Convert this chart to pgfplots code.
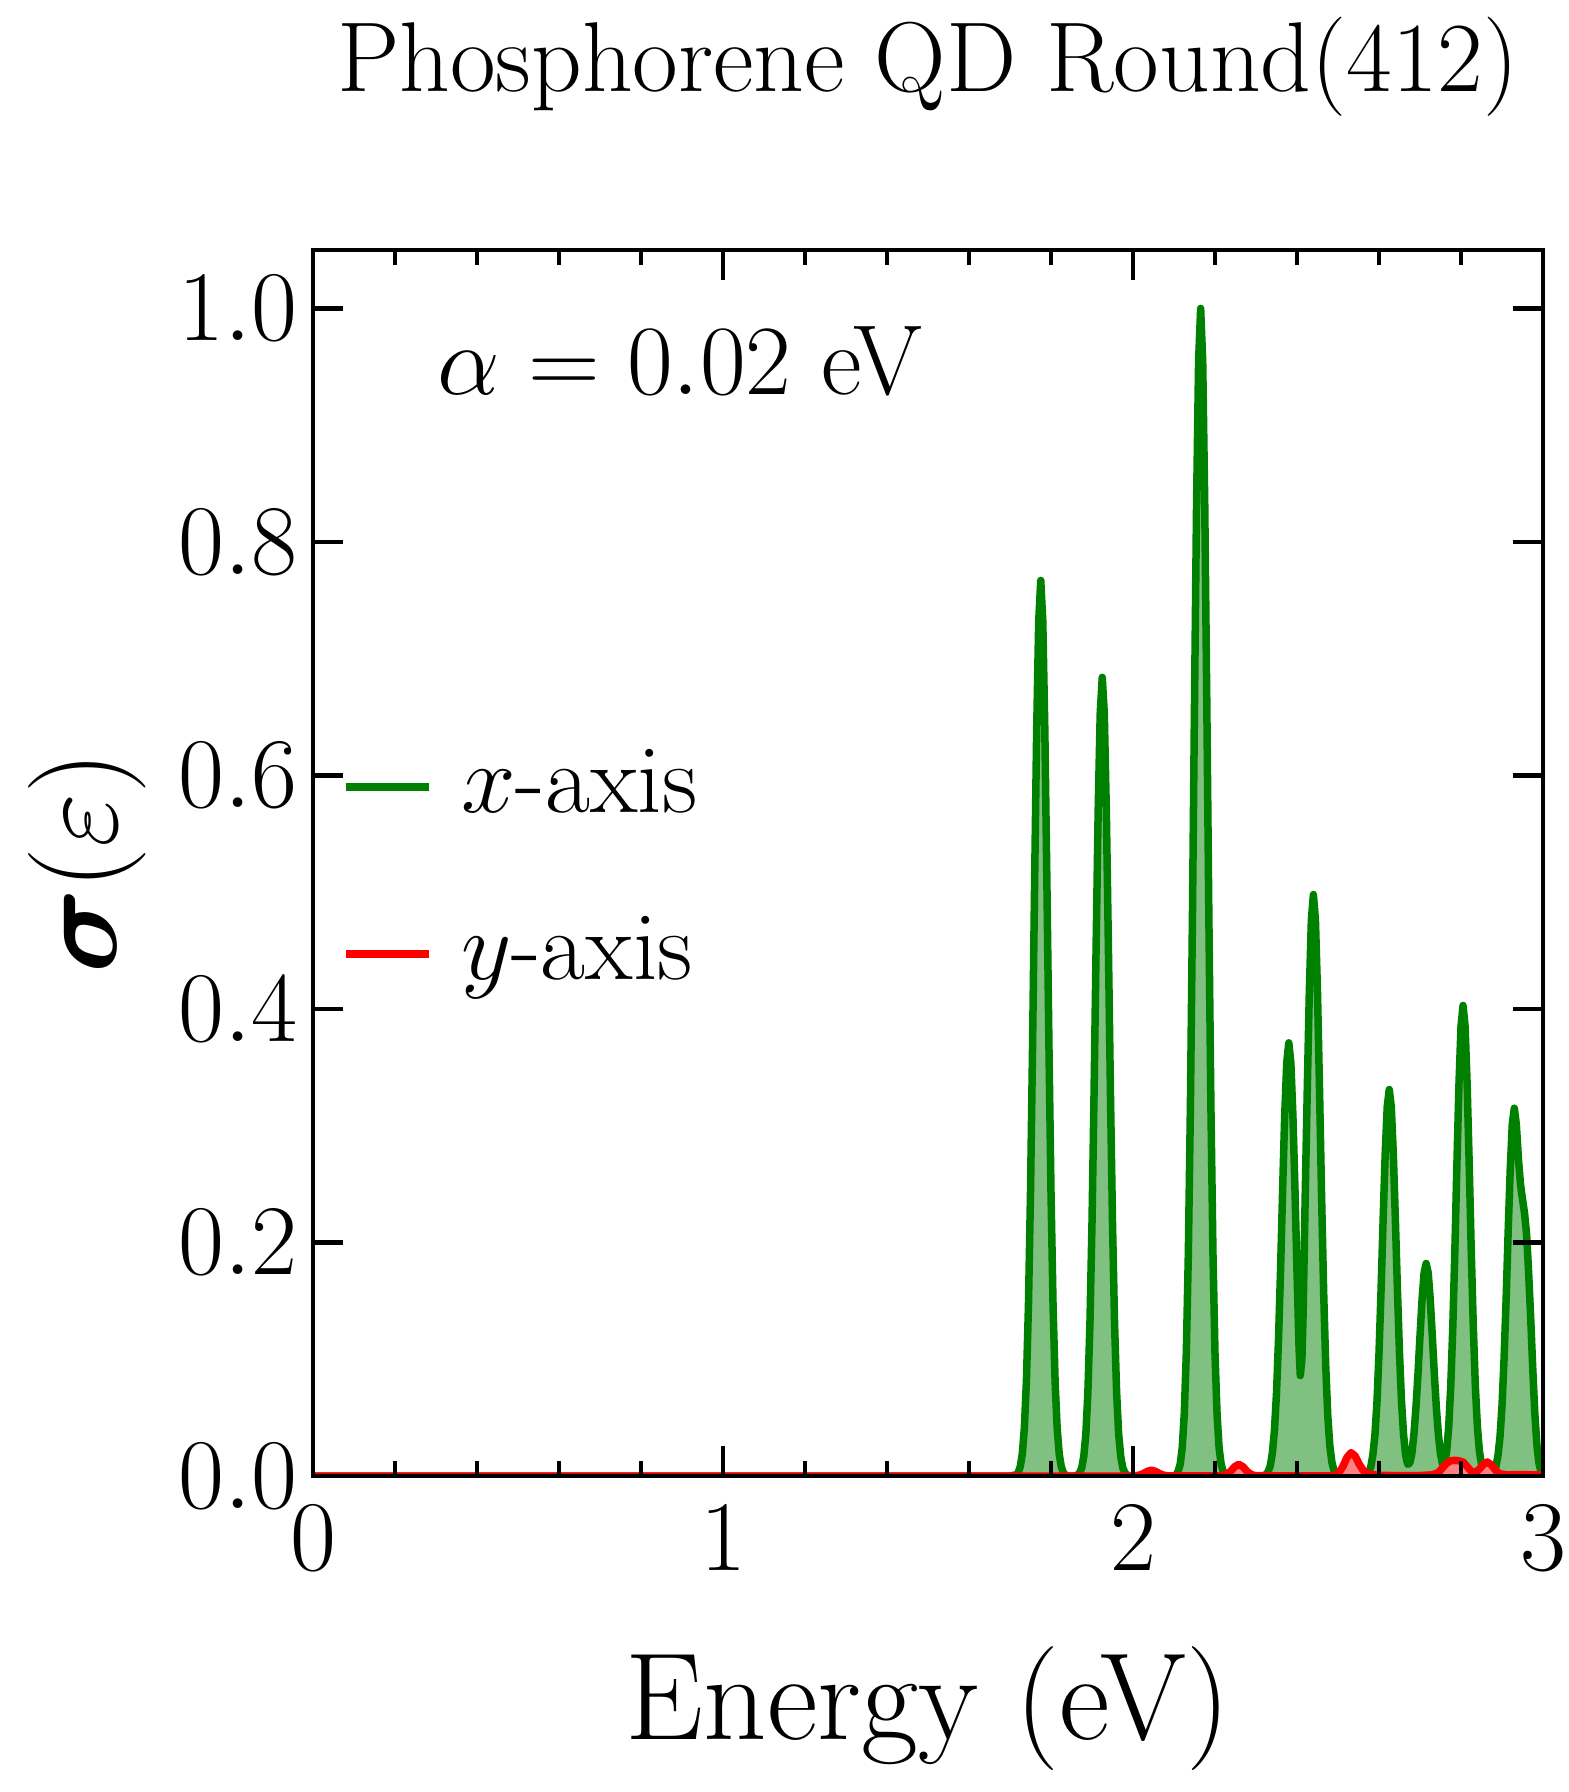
\RequirePackage{fix-cm}
\documentclass[border=0pt]{standalone}
\usepackage{pgfplots}
\pgfplotsset{compat=1.18}
\usepackage{pgfplotstable}
\usepackage{amsmath}
\definecolor{mplgreen}{HTML}{008000}
\definecolor{mplred}{HTML}{FF0000}
\definecolor{fillgreen}{HTML}{80C080}
\definecolor{fillred}{HTML}{FF8080}

\pgfplotstableread{
E s
0 0
1.70 0
1.715 0.001
1.72 0.003
1.725 0.008
1.73 0.019
1.735 0.041
1.74 0.081
1.745 0.146
1.75 0.243
1.755 0.368
1.76 0.508
1.765 0.638
1.77 0.732
1.775 0.767
1.78 0.732
1.785 0.638
1.79 0.508
1.795 0.368
1.80 0.243
1.805 0.146
1.81 0.081
1.815 0.041
1.82 0.019
1.825 0.008
1.83 0.003
1.835 0.001
1.84 0
1.86 0
1.865 0.001
1.87 0.003
1.875 0.007
1.88 0.017
1.885 0.036
1.89 0.072
1.895 0.131
1.90 0.217
1.905 0.328
1.91 0.453
1.915 0.569
1.92 0.653
1.925 0.684
1.93 0.653
1.935 0.569
1.94 0.453
1.945 0.328
1.95 0.217
1.955 0.131
1.96 0.072
1.965 0.036
1.97 0.017
1.975 0.007
1.98 0.003
1.985 0.001
1.99 0
2.10 0
2.105 0.001
2.11 0.004
2.115 0.010
2.12 0.024
2.125 0.053
2.13 0.105
2.135 0.191
2.14 0.317
2.145 0.480
2.15 0.662
2.155 0.832
2.16 0.955
2.165 1.000
2.17 0.955
2.175 0.832
2.18 0.662
2.185 0.480
2.19 0.317
2.195 0.191
2.20 0.105
2.205 0.053
2.21 0.024
2.215 0.010
2.22 0.004
2.225 0.001
2.23 0
2.315 0
2.32 0.0005
2.325 0.0014
2.33 0.004
2.335 0.009
2.34 0.020
2.345 0.039
2.35 0.071
2.355 0.118
2.36 0.178
2.365 0.246
2.37 0.309
2.375 0.354
2.38 0.371
2.385 0.354
2.39 0.309
2.395 0.246
2.40 0.175
2.405 0.110
2.408 0.086
2.412 0.100
2.415 0.140
2.42 0.240
2.425 0.330
2.43 0.414
2.435 0.476
2.44 0.498
2.445 0.476
2.45 0.414
2.455 0.330
2.46 0.239
2.465 0.158
2.47 0.095
2.475 0.052
2.48 0.026
2.485 0.012
2.49 0.005
2.495 0.002
2.50 0.001
2.51 0
2.56 0
2.565 0.0004
2.57 0.0013
2.575 0.003
2.58 0.008
2.585 0.018
2.59 0.035
2.595 0.063
2.60 0.105
2.605 0.159
2.61 0.219
2.615 0.275
2.62 0.316
2.625 0.331
2.63 0.316
2.635 0.275
2.64 0.219
2.645 0.159
2.65 0.105
2.655 0.063
2.66 0.035
2.665 0.018
2.67 0.010
2.675 0.011
2.68 0.019
2.685 0.035
2.69 0.058
2.695 0.087
2.70 0.120
2.705 0.151
2.71 0.174
2.715 0.182
2.72 0.174
2.725 0.151
2.73 0.120
2.735 0.087
2.74 0.058
2.745 0.035
2.75 0.019
2.755 0.010
2.76 0.011
2.765 0.021
2.77 0.042
2.775 0.077
2.78 0.128
2.785 0.193
2.79 0.267
2.795 0.335
2.80 0.385
2.805 0.403
2.81 0.385
2.815 0.335
2.82 0.267
2.825 0.193
2.83 0.128
2.835 0.077
2.84 0.042
2.845 0.021
2.85 0.010
2.855 0.004
2.86 0.0016
2.865 0.001
2.87 0.001
2.875 0.001
2.88 0.003
2.885 0.008
2.89 0.017
2.895 0.033
2.90 0.060
2.905 0.100
2.91 0.151
2.915 0.209
2.92 0.262
2.925 0.301
2.93 0.315
2.935 0.301
2.94 0.272
2.945 0.250
2.95 0.237
2.955 0.225
2.96 0.207
2.965 0.174
2.97 0.135
2.975 0.092
2.98 0.054
2.985 0.027
2.99 0.011
2.995 0.004
3.00 0.001
}\xdata

\pgfplotstableread{
E s
0 0
2.00 0
2.005 0.0002
2.015 0.0007
2.025 0.002
2.035 0.004
2.045 0.005
2.055 0.004
2.065 0.002
2.075 0.0007
2.085 0.0002
2.20 0
2.218 0.0003
2.228 0.0014
2.238 0.004
2.248 0.008
2.258 0.010
2.268 0.008
2.278 0.004
2.288 0.0014
2.298 0.0003
2.45 0
2.482 0.0001
2.492 0.0006
2.502 0.0027
2.512 0.0082
2.522 0.016
2.532 0.020
2.542 0.017
2.552 0.010
2.562 0.0045
2.572 0.002
2.582 0.0012
2.60 0.0006
2.65 0.0003
2.70 0.0004
2.73 0.001
2.745 0.003
2.755 0.007
2.765 0.011
2.775 0.013
2.785 0.0135
2.795 0.013
2.805 0.012
2.815 0.008
2.825 0.004
2.835 0.003
2.845 0.006
2.855 0.010
2.864 0.012
2.874 0.0095
2.884 0.005
2.894 0.002
2.91 0.001
2.95 0.0012
3.00 0.0008
}\ydata

\begin{document}
\begin{tikzpicture}
\useasboundingbox (-62.6pt,-63.2pt) rectangle (251pt,295.2pt);
\begin{axis}[
  scale only axis, width=246pt, height=245.2pt,
  xmin=0, xmax=3, ymin=0, ymax=1.05,
  xtick={0,1,2,3}, minor x tick num=4,
  ytick={0,0.2,0.4,0.6,0.8,1.0},
  tick align=inside, xtick pos=both, ytick pos=both,
  major tick length=6pt, minor tick length=3pt,
  every tick/.style={black, line width=0.9pt},
  axis line style={line width=0.9pt},
  axis on top,
  tick label style={font=\fontsize{20}{24}\selectfont},
  yticklabel style={/pgf/number format/fixed, /pgf/number format/fixed zerofill, /pgf/number format/precision=1},
  yticklabel style={inner sep=0pt, xshift=-2.9pt},
  xticklabel style={yshift=-2.5pt},
  title={Phosphorene QD Round(412)},
  every axis title/.style={at={(axis description cs:0.5,1.1289)}, anchor=base, font=\fontsize{19.85}{24}\selectfont},
  xlabel={Energy (eV)},
  every axis x label/.style={at={(axis description cs:0.5,-0.2149)}, anchor=base, font=\fontsize{24.8}{29}\selectfont},
  ylabel={$\boldsymbol{\sigma}(\varepsilon)$},
  every axis y label/.style={at={(axis description cs:-0.1595,0.5)}, rotate=90, anchor=base, font=\fontsize{23.5}{28}\selectfont},
  legend cell align=left,
  legend image code/.code={\draw[#1] (0pt,0pt) -- (16.6pt,0pt);},
  legend style={at={(axis cs:0.072,0.5185)}, anchor=west, draw=none, fill=none,
    inner sep=0pt, outer sep=0pt, row sep=15.4pt, column sep=5.6pt,
    font=\fontsize{19.6}{23}\selectfont,
    nodes={inner sep=0pt, text height=14pt, text depth=4pt}},
]
\addplot[draw=none, fill=fillgreen, forget plot] table[x=E, y=s] {\xdata} \closedcycle;
\addplot[mplgreen, line width=1.5pt, line join=round] table[x=E, y=s] {\xdata};
\addlegendentry{$x$-axis}
\addplot[draw=none, fill=fillred, forget plot] table[x=E, y=s] {\ydata} \closedcycle;
\addplot[mplred, line width=1.5pt, line join=round] table[x=E, y=s] {\ydata};
\addlegendentry{$y$-axis}
\node[anchor=base west, inner sep=0pt, font=\fontsize{19.9}{24}\selectfont] at (axis cs:0.302,0.926) {$\alpha = 0.02$ eV};
\end{axis}
\end{tikzpicture}
\end{document}
